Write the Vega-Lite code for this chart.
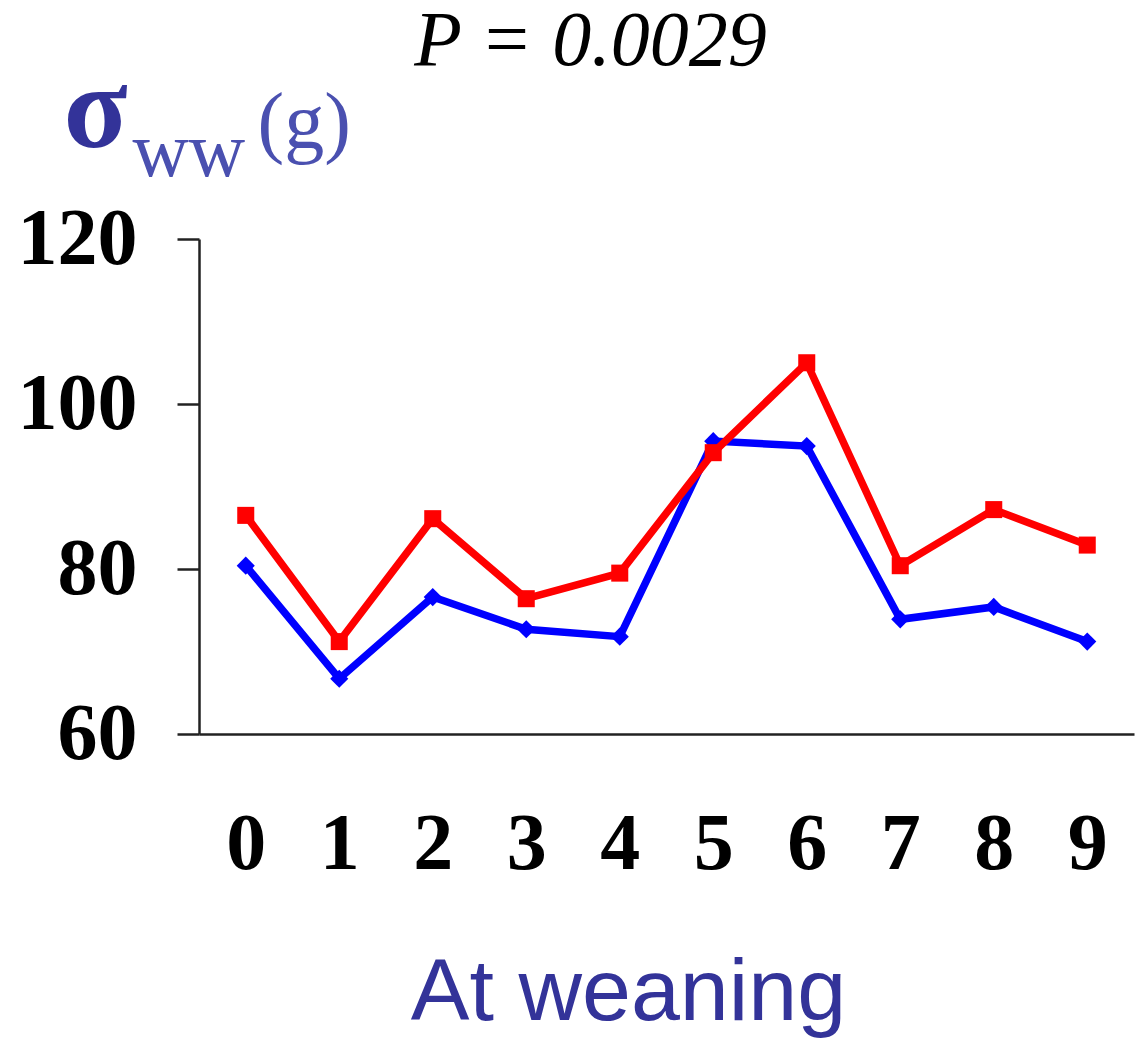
{
  "$schema": "https://vega.github.io/schema/vega-lite/v6.json",
  "width": 935,
  "height": 495,
  "autosize": "none",
  "padding": {"left": 199, "top": 239, "right": 11, "bottom": 307},
  "background": "white",
  "config": {"view": {"stroke": null}},
  "title": {
    "text": "P = 0.0029",
    "font": "Liberation Serif",
    "fontStyle": "italic",
    "fontWeight": "normal",
    "fontSize": 78,
    "color": "black",
    "anchor": "middle",
    "frame": "group",
    "dx": -76,
    "dy": 91,
    "baseline": "alphabetic",
    "offset": 0
  },
  "data": {
    "values": [
      {"index": 0, "series": "blue", "value": 80.4},
      {"index": 1, "series": "blue", "value": 66.7},
      {"index": 2, "series": "blue", "value": 76.6},
      {"index": 3, "series": "blue", "value": 72.7},
      {"index": 4, "series": "blue", "value": 71.8},
      {"index": 5, "series": "blue", "value": 95.5},
      {"index": 6, "series": "blue", "value": 94.9},
      {"index": 7, "series": "blue", "value": 73.9},
      {"index": 8, "series": "blue", "value": 75.4},
      {"index": 9, "series": "blue", "value": 71.2},
      {"index": 0, "series": "red", "value": 86.5},
      {"index": 1, "series": "red", "value": 71.2},
      {"index": 2, "series": "red", "value": 86.1},
      {"index": 3, "series": "red", "value": 76.4},
      {"index": 4, "series": "red", "value": 79.5},
      {"index": 5, "series": "red", "value": 94.1},
      {"index": 6, "series": "red", "value": 105.0},
      {"index": 7, "series": "red", "value": 80.4},
      {"index": 8, "series": "red", "value": 87.2},
      {"index": 9, "series": "red", "value": 82.9}
    ]
  },
  "layer": [
    {
      "transform": [{"filter": "datum.series === 'blue'"}],
      "mark": {"type": "line", "color": "#0000ff", "strokeWidth": 7.5},
      "encoding": {
        "x": {
          "field": "index", "type": "ordinal",
          "scale": {"type": "point", "padding": 0.5},
          "axis": {
            "orient": "bottom",
            "title": "At weaning",
            "titleFont": "Liberation Sans",
            "titleFontSize": 88,
            "titleFontWeight": "normal",
            "titleColor": "#333399",
            "titleX": 429,
            "titleY": 285,
            "titleAlign": "center",
            "titleBaseline": "alphabetic",
            "labelAngle": 0,
            "labelFont": "Liberation Serif",
            "labelFontWeight": "bold",
            "labelFontSize": 80,
            "labelColor": "black",
            "labelBaseline": "alphabetic",
            "labelPadding": 134,
            "ticks": false,
            "tickSize": 0,
            "grid": false,
            "domainColor": "#222222",
            "domainWidth": 2.5
          }
        },
        "y": {
          "field": "value", "type": "quantitative",
          "scale": {"domain": [60, 120], "nice": false, "zero": false},
          "axis": {
            "orient": "left",
            "values": [60, 80, 100, 120],
            "title": "σ",
            "titleFont": "Liberation Serif",
            "titleFontSize": 118,
            "titleFontWeight": "bold",
            "titleColor": "#333399",
            "titleAngle": 0,
            "titleX": -136,
            "titleY": -93,
            "titleAlign": "left",
            "titleBaseline": "alphabetic",
            "labelFont": "Liberation Serif",
            "labelFontWeight": "bold",
            "labelFontSize": 80,
            "labelColor": "black",
            "labelPadding": 40,
            "labelBaseline": "middle",
            "tickSize": 22,
            "tickWidth": 2.5,
            "tickColor": "#222222",
            "grid": false,
            "domainColor": "#222222",
            "domainWidth": 2.5
          }
        }
      }
    },
    {
      "transform": [{"filter": "datum.series === 'blue'"}],
      "mark": {"type": "point", "shape": "diamond", "filled": true, "color": "#0000ff", "size": 330, "opacity": 1},
      "encoding": {
        "x": {"field": "index", "type": "ordinal", "axis": null},
        "y": {"field": "value", "type": "quantitative", "axis": null}
      }
    },
    {
      "transform": [{"filter": "datum.series === 'red'"}],
      "mark": {"type": "line", "color": "#ff0000", "strokeWidth": 7.5},
      "encoding": {
        "x": {
          "field": "index", "type": "ordinal",
          "axis": {
            "orient": "top",
            "title": "ww",
            "titleFont": "Liberation Serif",
            "titleFontSize": 78,
            "titleFontWeight": "normal",
            "titleColor": "#4a50b0",
            "titleX": -67,
            "titleY": -64,
            "titleAlign": "left",
            "titleBaseline": "alphabetic",
            "labels": false,
            "ticks": false,
            "domain": false,
            "grid": false
          }
        },
        "y": {
          "field": "value", "type": "quantitative",
          "axis": {
            "orient": "right",
            "title": "(g)",
            "titleFont": "Liberation Serif",
            "titleFontSize": 80,
            "titleFontWeight": "normal",
            "titleColor": "#4a50b0",
            "titleAngle": 0,
            "titleX": -877,
            "titleY": -92,
            "titleAlign": "left",
            "titleBaseline": "alphabetic",
            "labels": false,
            "ticks": false,
            "domain": false,
            "grid": false
          }
        }
      }
    },
    {
      "transform": [{"filter": "datum.series === 'red'"}],
      "mark": {"type": "point", "shape": "square", "filled": true, "color": "#ff0000", "size": 290, "opacity": 1},
      "encoding": {
        "x": {"field": "index", "type": "ordinal", "axis": null},
        "y": {"field": "value", "type": "quantitative", "axis": null}
      }
    }
  ],
  "resolve": {"axis": {"x": "independent", "y": "independent"}}
}
